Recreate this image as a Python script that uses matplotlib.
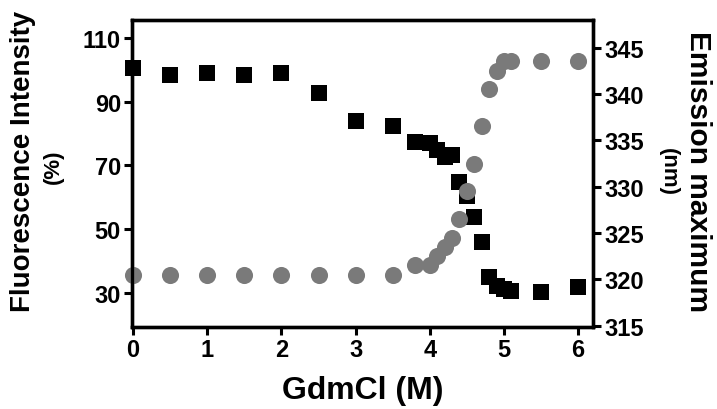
import matplotlib
matplotlib.use("Agg")
import matplotlib.pyplot as plt

plt.rcParams['font.family'] = ['Liberation Sans', 'DejaVu Sans']
plt.rcParams['font.weight'] = 'bold'

# GdmCl concentration (M)
gdmcl = [0, 0.5, 1, 1.5, 2, 2.5, 3, 3.5, 3.8, 4.0, 4.1, 4.2, 4.3, 4.4,
         4.5, 4.6, 4.7, 4.8, 4.9, 5.0, 5.1, 5.5, 6.0]
# fluorescence intensity (%)
intensity = [100.5, 98.4, 98.9, 98.4, 98.9, 92.7, 84.0, 82.2, 77.2, 77.0,
             74.8, 72.6, 73.1, 64.9, 60.3, 53.7, 45.9, 34.9, 32.3, 31.3,
             30.7, 30.4, 32.0]
# emission maximum (nm)
emission = [320.5, 320.5, 320.5, 320.5, 320.5, 320.5, 320.5, 320.5, 321.5,
            321.5, 322.5, 323.5, 324.5, 326.5, 329.5, 332.5, 336.6, 340.6,
            342.5, 343.6, 343.6, 343.6, 343.6]

left_ticks = [30, 50, 70, 90, 110]
right_ticks = [315, 320, 325, 330, 335, 340, 345]
x_ticks = [0, 1, 2, 3, 4, 5, 6]

fig = plt.figure(figsize=(7.17, 4.10), dpi=100)
ax = fig.add_axes([0.1841, 0.2, 0.6429, 0.7488])
ax2 = ax.twinx()

ax.plot(gdmcl, intensity, 's', color='black', markersize=12, markeredgewidth=0, clip_on=False)
ax2.plot(gdmcl, emission, 'o', color='#7a7a7a', markersize=12.3, markeredgewidth=0, clip_on=False)

ax.set_xlim(-0.015, 6.2)
ax.set_ylim(19.3, 115.6)
ax2.set_ylim(314.86, 348.0)
ax.set_xticks(x_ticks)
ax.set_yticks(left_ticks)
ax2.set_yticks(right_ticks)

for a in (ax, ax2):
    for s in a.spines.values():
        s.set_linewidth(2.4)
    a.tick_params(width=2.2, length=6, labelsize=17, pad=2)
for lab in ax.get_xticklabels() + ax.get_yticklabels() + ax2.get_yticklabels():
    lab.set_fontweight('bold')

fig.text(0.032, 1 - 161.5 / 410, 'Fluorescence Intensity', rotation=90,
         ha='center', va='center', fontsize=20, fontweight='bold')
fig.text(0.075, 1 - 166.7 / 410, '(%)', rotation=90,
         ha='center', va='center', fontsize=16, fontweight='bold')
fig.text(698 / 717, 1 - 172 / 410, 'Emission maximum', rotation=270,
         ha='center', va='center', fontsize=21.5, fontweight='bold')
fig.text(668 / 717, 1 - 172 / 410, '(nm)', rotation=270,
         ha='center', va='center', fontsize=16, fontweight='bold')
fig.text(363 / 717, 1 - 391 / 410, 'GdmCl (M)',
         ha='center', va='center', fontsize=23, fontweight='bold')

fig.savefig('out.png', dpi=100)
